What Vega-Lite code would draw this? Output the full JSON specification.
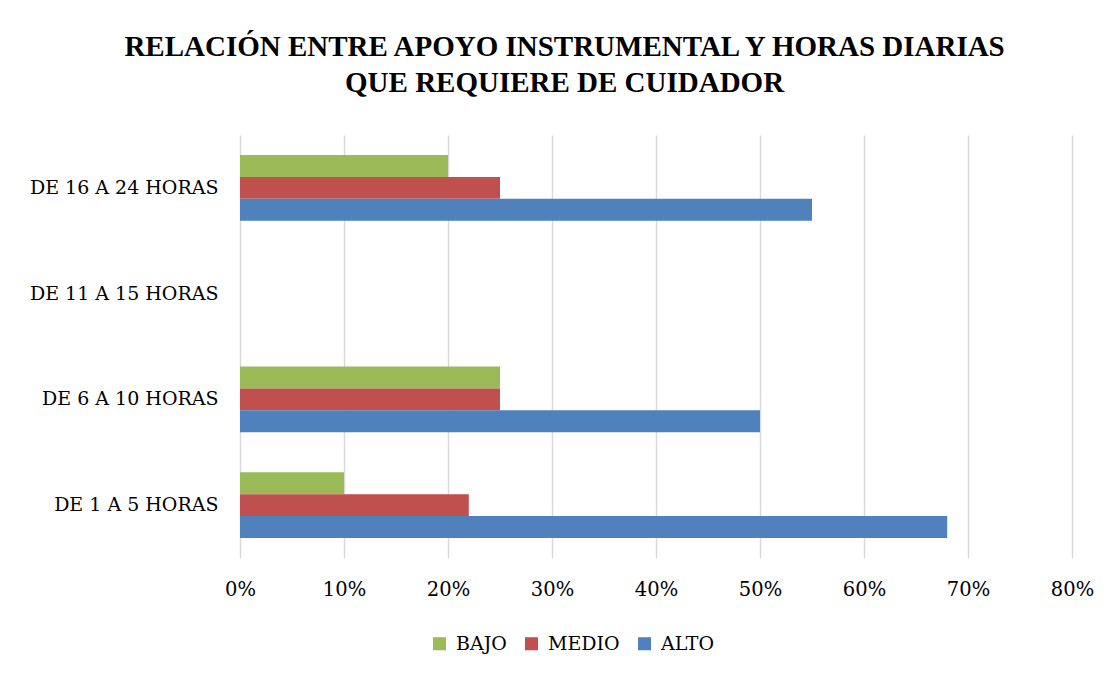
{
  "$schema": "https://vega.github.io/schema/vega-lite/v6.json",
  "width": 832,
  "height": 423,
  "padding": {"left": 29, "top": 33, "right": 20, "bottom": 10},
  "background": "white",
  "title": {
    "text": ["RELACIÓN ENTRE APOYO INSTRUMENTAL Y HORAS DIARIAS", "QUE REQUIERE DE CUIDADOR"],
    "font": "Liberation Serif",
    "fontSize": 29,
    "fontWeight": "bold",
    "color": "#000000",
    "anchor": "middle",
    "frame": "bounds",
    "lineHeight": 36,
    "offset": 37,
    "dx": 3
  },
  "data": {
    "values": [
      {"horas": "DE 16 A 24 HORAS", "nivel": "BAJO", "valor": 0.20},
      {"horas": "DE 16 A 24 HORAS", "nivel": "MEDIO", "valor": 0.25},
      {"horas": "DE 16 A 24 HORAS", "nivel": "ALTO", "valor": 0.55},
      {"horas": "DE 6 A 10 HORAS", "nivel": "BAJO", "valor": 0.25},
      {"horas": "DE 6 A 10 HORAS", "nivel": "MEDIO", "valor": 0.25},
      {"horas": "DE 6 A 10 HORAS", "nivel": "ALTO", "valor": 0.50},
      {"horas": "DE 1 A 5 HORAS", "nivel": "BAJO", "valor": 0.10},
      {"horas": "DE 1 A 5 HORAS", "nivel": "MEDIO", "valor": 0.22},
      {"horas": "DE 1 A 5 HORAS", "nivel": "ALTO", "valor": 0.68}
    ]
  },
  "mark": {"type": "bar"},
  "encoding": {
    "y": {
      "field": "horas",
      "type": "nominal",
      "scale": {
        "domain": ["DE 16 A 24 HORAS", "DE 11 A 15 HORAS", "DE 6 A 10 HORAS", "DE 1 A 5 HORAS"],
        "paddingInner": 0.38,
        "paddingOuter": 0.19
      },
      "axis": {
        "title": null,
        "domain": false,
        "ticks": false,
        "labelFont": "DejaVu Serif",
        "labelFontSize": 19,
        "labelColor": "#000000",
        "labelPadding": 22,
        "labelLimit": 400
      }
    },
    "yOffset": {
      "field": "nivel",
      "type": "nominal",
      "scale": {"domain": ["BAJO", "MEDIO", "ALTO"], "paddingInner": 0, "paddingOuter": 0}
    },
    "x": {
      "field": "valor",
      "type": "quantitative",
      "scale": {"domain": [0, 0.8], "nice": false},
      "axis": {
        "title": null,
        "format": ".0%",
        "values": [0, 0.1, 0.2, 0.3, 0.4, 0.5, 0.6, 0.7, 0.8],
        "domain": false,
        "ticks": false,
        "grid": true,
        "gridColor": "#d9d9d9",
        "gridWidth": 1.5,
        "labelFlush": false,
        "labelFont": "DejaVu Serif",
        "labelFontSize": 19.5,
        "labelColor": "#000000",
        "labelPadding": 22
      }
    },
    "color": {
      "field": "nivel",
      "type": "nominal",
      "scale": {"domain": ["BAJO", "MEDIO", "ALTO"], "range": ["#9bbb59", "#c0504d", "#4f81bd"]},
      "legend": {
        "title": null,
        "orient": "none",
        "legendX": 190,
        "legendY": 499,
        "direction": "horizontal",
        "symbolType": "square",
        "symbolSize": 170,
        "symbolStrokeWidth": 0,
        "labelFont": "DejaVu Serif",
        "labelFontSize": 19,
        "labelColor": "#000000",
        "labelOffset": 7,
        "columnPadding": 15
      }
    }
  },
  "config": {
    "view": {"stroke": null}
  }
}
